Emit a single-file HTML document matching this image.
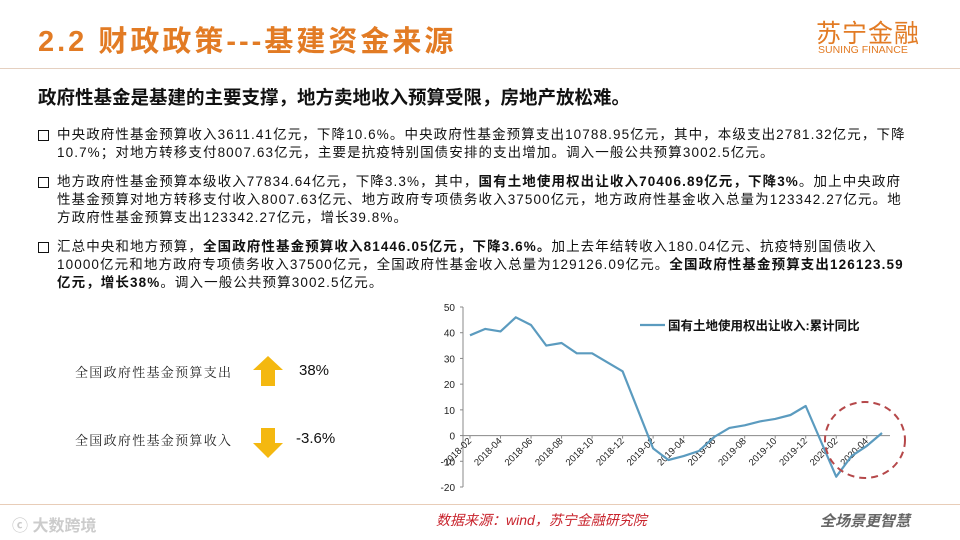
<!DOCTYPE html>
<html><head><meta charset="utf-8">
<style>
body{margin:0;width:960px;height:540px;overflow:hidden;background:#fff;font-family:"Liberation Sans","Noto Sans CJK SC",sans-serif;position:relative}
.abs{position:absolute}
.title{left:38px;top:18px;font-size:29px;font-weight:bold;color:#e27b24;letter-spacing:3px;white-space:nowrap}
.logo1{left:816px;top:14px;font-size:25px;color:#e27b24;letter-spacing:1px}
.logo2{left:818px;top:44px;font-size:10.5px;color:#e27b24}
.hline{left:0;top:68px;width:960px;height:1px;background:#e5d0c0}
.sub{left:38px;top:84px;font-size:18.5px;font-weight:bold;color:#111;white-space:nowrap}
.para{left:38px;width:900px;font-size:13.5px;letter-spacing:1.1px;color:#111;line-height:18px}
.para .b{position:absolute;left:0;top:4px;width:9px;height:9px;border:1.6px solid #111}
.para div.l{padding-left:19px;white-space:nowrap}
.lbl{font-family:"Noto Serif CJK SC",serif;font-size:13px;letter-spacing:1.3px;color:#222;white-space:nowrap}
.pct{font-size:15px;color:#111}
.bline{left:0;top:504px;width:960px;height:1px;background:#e8cdb8}
.src{left:436px;top:510px;font-size:14px;color:#c8232c;font-style:italic}
.wm{left:820px;top:510px;font-size:15px;color:#666;font-weight:bold;font-style:italic}
.wm2{left:12px;top:512px;font-size:16px;color:#ccc;font-weight:bold}
</style></head><body>
<div class="abs title">2.2 财政政策---基建资金来源</div>
<div class="abs logo1">苏宁金融</div>
<div class="abs logo2">SUNING FINANCE</div>
<div class="abs hline"></div>
<div class="abs sub">政府性基金是基建的主要支撑，地方卖地收入预算受限，房地产放松难。</div>

<div class="abs para" style="top:126px"><span class="b"></span>
<div class="l">中央政府性基金预算收入3611.41亿元，下降10.6%。中央政府性基金预算支出10788.95亿元，其中，本级支出2781.32亿元，下降</div>
<div class="l">10.7%；对地方转移支付8007.63亿元，主要是抗疫特别国债安排的支出增加。调入一般公共预算3002.5亿元。</div></div>
<div class="abs para" style="top:173px"><span class="b"></span>
<div class="l">地方政府性基金预算本级收入77834.64亿元，下降3.3%，其中，<b>国有土地使用权出让收入70406.89亿元，下降3%</b>。加上中央政府</div>
<div class="l">性基金预算对地方转移支付收入8007.63亿元、地方政府专项债务收入37500亿元，地方政府性基金收入总量为123342.27亿元。地</div>
<div class="l">方政府性基金预算支出123342.27亿元，增长39.8%。</div></div>
<div class="abs para" style="top:238px"><span class="b"></span>
<div class="l">汇总中央和地方预算，<b>全国政府性基金预算收入81446.05亿元，下降3.6%。</b>加上去年结转收入180.04亿元、抗疫特别国债收入</div>
<div class="l">10000亿元和地方政府专项债务收入37500亿元，全国政府性基金收入总量为129126.09亿元。<b>全国政府性基金预算支出126123.59</b></div>
<div class="l"><b>亿元，增长38%</b>。调入一般公共预算3002.5亿元。</div></div>

<div class="abs lbl" style="left:75px;top:362px">全国政府性基金预算支出</div>
<svg class="abs" style="left:251px;top:354px" width="34" height="34"><polygon points="17,2 32,16 24,16 24,32 10,32 10,16 2,16" fill="#f4b810"/></svg>
<div class="abs pct" style="left:299px;top:362px">38%</div>
<div class="abs lbl" style="left:75px;top:430px">全国政府性基金预算收入</div>
<svg class="abs" style="left:251px;top:426px" width="34" height="34"><polygon points="10,2 24,2 24,17 32,17 17,32 2,17 10,17" fill="#f4b810"/></svg>
<div class="abs pct" style="left:296px;top:430px">-3.6%</div>

<svg id="chart" class="abs" style="left:0;top:0" width="960" height="540"></svg>

<div class="abs bline"></div>
<div class="abs wm2">ⓒ 大数跨境</div>
<div class="abs src">数据来源：wind，苏宁金融研究院</div>
<div class="abs wm">全场景更智慧</div>

<script>
const categories=["2018-02","2018-03","2018-04","2018-05","2018-06","2018-07","2018-08","2018-09","2018-10","2018-11","2018-12","2019-01","2019-02","2019-03","2019-04","2019-05","2019-06","2019-07","2019-08","2019-09","2019-10","2019-11","2019-12","2020-01","2020-02","2020-03","2020-04","2020-05"];
const values=[39,41.5,40.5,46,43,35,36,32,32,28.5,25,null,-5,-9.5,-8,-6,-0.5,3,4,5.5,6.5,8,11.5,null,-16,-8,-4,1];
const yTicks=[50,40,30,20,10,0,-10,-20];
const tickLabels=["2018-02","2018-04","2018-06","2018-08","2018-10","2018-12","2019-02","2019-04","2019-06","2019-08","2019-10","2019-12","2020-02","2020-04"];
const seriesName="国有土地使用权出让收入:累计同比";
const NS="http://www.w3.org/2000/svg";
const svg=document.getElementById('chart');
const x0=463,x1=890,px0=470,step=15.26,yTop=307,yBot=487,yMax=50,yMin=-20;
const xs=i=>px0+i*step;
const ys=v=>yTop+(yMax-v)/(yMax-yMin)*(yBot-yTop);
function mk(t,a){const e=document.createElementNS(NS,t);for(const k in a)e.setAttribute(k,a[k]);svg.appendChild(e);return e;}
let ax=mk('line',{x1:x0,y1:yTop,x2:x0,y2:yBot,stroke:'#888','stroke-width':1});


yTicks.forEach(v=>{
 const t=mk('text',{x:x0-8,y:ys(v)+4,'text-anchor':'end','font-size':10,fill:'#222','font-family':'Liberation Sans, sans-serif'});
 t.textContent=v;
 
 
 mk('line',{x1:x0-3,y1:ys(v),x2:x0,y2:ys(v),stroke:'#888'});
});
let xa=mk('line',{x1:x0,y1:ys(0),x2:x1,y2:ys(0),stroke:'#888','stroke-width':1});


tickLabels.forEach(l=>{
 const i=categories.indexOf(l);const x=xs(i);
 mk('line',{x1:x,y1:ys(0),x2:x,y2:ys(0)+3,stroke:'#888'});
 const t=mk('text',{x:x+2,y:ys(0)+6,'text-anchor':'end','font-size':9.5,fill:'#222','font-family':'Liberation Sans, sans-serif',transform:`rotate(-45 ${x+2} ${ys(0)+6})`});
 t.textContent=l;
 
 
});
let d='';values.forEach((v,i)=>{if(v===null)return;d+=(d?'L':'M')+xs(i).toFixed(1)+','+ys(v).toFixed(1);});
const p=mk('path',{d:d,fill:'none',stroke:'#5b9bbf','stroke-width':2.2,'stroke-linejoin':'round'});


mk('line',{x1:640,y1:325,x2:665,y2:325,stroke:'#5b9bbf','stroke-width':2.2});
const lt=mk('text',{x:668,y:330,'font-size':12.5,fill:'#111','font-weight':'bold','font-family':'Liberation Sans, Noto Sans CJK SC, sans-serif'});
lt.textContent=seriesName;


const c=mk('ellipse',{cx:865,cy:440,rx:40,ry:38,fill:'none',stroke:'#b5484a','stroke-width':2,'stroke-dasharray':'7,5'});


</script>
</body></html>
